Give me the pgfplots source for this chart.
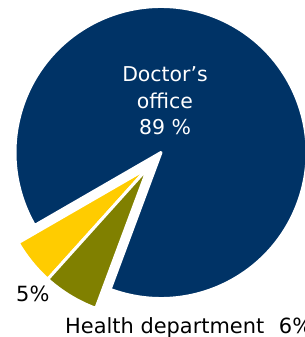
\documentclass[border=0pt]{standalone}
\usepackage{pgfplots}
\pgfplotsset{compat=1.18}
\usepackage{pgfplotstable}
\usepackage{fontspec}
\setmainfont{DejaVu Sans}
\definecolor{pienavy}{HTML}{003366}
\definecolor{pieolive}{HTML}{808000}
\definecolor{pieyellow}{HTML}{FFCC00}

\pgfplotstableread{
label   value
Doctor  89
Other   5
Health  6
}\piedata

\begin{document}
\begin{tikzpicture}
\begin{axis}[
  name=ax, at={(0,0)}, anchor=south west,
  width=305bp, height=337bp, scale only axis,
  xmin=0, xmax=305, ymin=0, ymax=337,
  hide axis, clip=false]
  \pgfplotstablegetelem{0}{value}\of\piedata \pgfmathsetmacro{\vDoc}{\pgfplotsretval}
  \pgfplotstablegetelem{1}{value}\of\piedata \pgfmathsetmacro{\vOth}{\pgfplotsretval}
  \pgfplotstablegetelem{2}{value}\of\piedata \pgfmathsetmacro{\vHea}{\pgfplotsretval}
  % geometry (axis units = bp)
  \def\cx{161}\def\cy{184.5}\def\R{146}\def\Rs{150}
  \pgfmathsetmacro{\aA}{210}
  \pgfmathsetmacro{\aB}{\aA+3.6*\vOth}
  \pgfmathsetmacro{\aC}{\aB+3.6*\vHea}
  \pgfmathsetmacro{\aD}{\aC+3.6*\vDoc}
  % explosion of the two small slices
  \pgfmathsetmacro{\ex}{\cx+20*cos(229.8)}
  \pgfmathsetmacro{\ey}{\cy+20*sin(229.8)}
  \coordinate (BL) at (axis cs:0,0);
  \coordinate (TR) at (axis cs:305,337);
  % Doctor's office
  \fill[pienavy, draw=white, line width=3bp, line join=round]
    (axis cs:\cx,\cy) -- (axis cs:{\cx+\R*cos(\aC)},{\cy+\R*sin(\aC)})
    arc[start angle=\aC, end angle=\aD, radius=\R bp] -- cycle;
  % 5%
  \fill[pieyellow, draw=white, line width=3bp, line join=miter]
    (axis cs:\ex,\ey) -- (axis cs:{\ex+\Rs*cos(\aA)},{\ey+\Rs*sin(\aA)})
    arc[start angle=\aA, end angle=\aB, radius=\Rs bp] -- cycle;
  % Health department
  \fill[pieolive, draw=white, line width=3bp, line join=miter]
    (axis cs:\ex,\ey) -- (axis cs:{\ex+\Rs*cos(\aB)},{\ey+\Rs*sin(\aB)})
    arc[start angle=\aB, end angle=\aC, radius=\Rs bp] -- cycle;
  % labels
  \node[white, align=center, font=\fontsize{20.5}{26.5}\selectfont, anchor=center]
    at (axis cs:165,236) {Doctor’s\\office\\89 \%};
  \node[black, font=\fontsize{21}{26}\selectfont, anchor=base west, inner sep=0pt]
    at (axis cs:16,35) {5\%};
  \node[black, font=\fontsize{21}{26}\selectfont, anchor=base west, inner sep=0pt]
    at (axis cs:65,4) {Health department\hspace{0.7em}6\%};
\end{axis}
\pgfresetboundingbox
\path[use as bounding box] (BL) rectangle (TR);
\end{tikzpicture}
\end{document}
